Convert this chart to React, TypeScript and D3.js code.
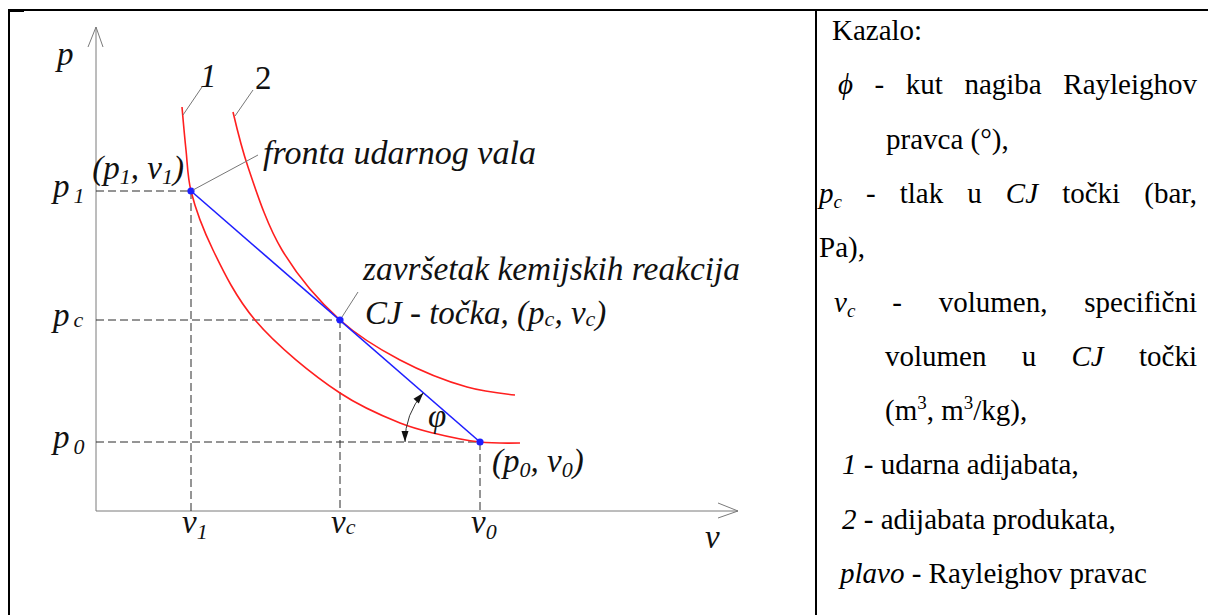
import React, { useEffect, useRef } from "react";
import * as d3 from "d3";

// shock adiabat (curve 1), v / p in diagram units
const shockV = [0.86, 0.9, 0.95, 1.17, 1.59, 2.44, 3.04, 3.37, 3.84, 4.24];
const shockP = [4.04, 3.61, 3.2, 2.61, 1.91, 1.18, 0.88, 0.78, 0.69, 0.68];

// product adiabat (curve 2)
const productV = [1.37, 1.52, 1.86, 2.44, 3.04, 3.71, 4.19];
const productP = [3.99, 3.44, 2.61, 1.91, 1.51, 1.24, 1.16];

// states: shock front (1), CJ point (c), initial (0)
const stateSub = ["1", "c", "0"];
const stateV = [0.95, 2.44, 3.84];
const stateP = [3.2, 1.91, 0.69];

const vMax = 6.42;
const pMax = 4.84;

type Run = [string, string];
// legend rows: words made of runs (n = normal, i = italic, sub, sup)
const legendRows: Run[][][] = [
  [[["Kazalo:", "n"]]],
  [[["ϕ", "i"]], [["-", "n"]], [["kut", "n"]], [["nagiba", "n"]], [["Rayleighov", "n"]]],
  [[["pravca", "n"]], [["(°),", "n"]]],
  [[["p", "i"], ["c", "sub"]], [["-", "n"]], [["tlak", "n"]], [["u", "n"]], [["CJ", "i"]], [["točki", "n"]], [["(bar,", "n"]]],
  [[["Pa),", "n"]]],
  [[["v", "i"], ["c", "sub"]], [["-", "n"]], [["volumen,", "n"]], [["specifični", "n"]]],
  [[["volumen", "n"]], [["u", "n"]], [["CJ", "i"]], [["točki", "n"]]],
  [[["(m", "n"], ["3", "sup"], [",", "n"]], [["m", "n"], ["3", "sup"], ["/kg),", "n"]]],
  [[["1", "i"]], [["-", "n"]], [["udarna", "n"]], [["adijabata,", "n"]]],
  [[["2", "i"]], [["-", "n"]], [["adijabata", "n"]], [["produkata,", "n"]]],
  [[["plavo", "i"]], [["-", "n"]], [["Rayleighov", "n"]], [["pravac", "n"]]],
];
const legendJustified = [false, true, false, true, false, true, true, false, false, false, false];

const FONT = "Liberation Serif, Tinos, Times New Roman, Times, DejaVu Serif, serif";

const App = () => {
  const legendRef = useRef<SVGGElement | null>(null);

  const x = d3.scaleLinear().domain([0, vMax]).range([96, 738]);
  const y = d3.scaleLinear().domain([0, pMax]).range([511, 27]);

  const line = d3
    .line<[number, number]>()
    .x((d) => x(d[0]))
    .y((d) => y(d[1]))
    .curve(d3.curveCatmullRom.alpha(0.5));

  const shock = shockV.map((v, i) => [v, shockP[i]] as [number, number]);
  const product = productV.map((v, i) => [v, productP[i]] as [number, number]);

  const pts = stateV.map((v, i) => [x(v), y(stateP[i])]);
  const [P1, Pc, P0] = pts;

  // angle arc at the initial state
  const r = 75;
  const a0 = Math.PI;
  const a1 = Math.atan2(P1[1] - P0[1], P1[0] - P0[0]) + 2 * Math.PI;
  const arc = d3.path();
  arc.arc(P0[0], P0[1], r, a0, a1, false);
  const head = (a: number, dir: number) => {
    const tx = P0[0] + r * Math.cos(a);
    const ty = P0[1] + r * Math.sin(a);
    const ux = -Math.sin(a) * dir;
    const uy = Math.cos(a) * dir;
    const L = 11;
    const w = 3.5;
    const bx = tx - ux * L;
    const by = ty - uy * L;
    return `M${tx},${ty}L${bx - uy * w},${by + ux * w}L${bx + uy * w},${by - ux * w}Z`;
  };

  useEffect(() => {
    if (!legendRef.current) return;
    const g = d3.select(legendRef.current);
    g.selectAll("*").remove();
    const indent = [832, 838, 886, 819, 819, 834, 885, 885, 842, 842, 840];
    const right = 1197;
    const fs = 29;
    legendRows.forEach((row, ri) => {
      const base = 40 + ri * 54.3;
      const texts = row.map((word) => {
        const t = g
          .append("text")
          .attr("y", base)
          .style("font-family", FONT)
          .attr("font-size", fs)
          .attr("fill", "#000");
        let shift = 0;
        word.forEach(([s, k]) => {
          const ts = t.append("tspan").text(s);
          const target = k === "sub" ? 5 : k === "sup" ? -11 : 0;
          if (target !== shift) {
            ts.attr("dy", target - shift);
            shift = target;
          }
          if (k === "i" || k === "sub") ts.attr("font-style", "italic");
          if (k === "sub" || k === "sup") ts.attr("font-size", 19);
        });
        return t;
      });
      const widths = texts.map((t) => (t.node() as SVGTextElement).getComputedTextLength());
      const total = d3.sum(widths);
      const gap =
        legendJustified[ri] && texts.length > 1
          ? (right - indent[ri] - total) / (texts.length - 1)
          : fs * 0.25;
      let cx = indent[ri];
      texts.forEach((t, i) => {
        t.attr("x", cx);
        cx += widths[i] + gap;
      });
    });
  }, []);

  const txt = { fontFamily: FONT, fontStyle: "italic" as const, fill: "#111" };
  const dash = { stroke: "#2a2a2a", strokeWidth: 1, strokeDasharray: "8,4" };

  return (
    <svg
      width={1208}
      height={615}
      style={{ position: "absolute", left: 0, top: 0, background: "#fff" }}
    >
      {/* frame */}
      <line x1={8} x2={1208} y1={10} y2={10} stroke="#000" strokeWidth={2} />
      <rect x={8} y={9} width={16} height={3} fill="#000" />
      <line x1={9} x2={9} y1={9} y2={615} stroke="#000" strokeWidth={2} />
      <line x1={816} x2={816} y1={9} y2={615} stroke="#000" strokeWidth={2} />

      {/* axes */}
      <g stroke="#7a7a7a" strokeWidth={1} fill="none">
        <path d={`M${x(0)},${y(0)}V${y(pMax)}`} />
        <path d={`M${x(0) - 8},${y(pMax) + 20}L${x(0)},${y(pMax)}L${x(0) + 7},${y(pMax) + 20}`} />
        <path d={`M${x(0)},${y(0)}H${x(vMax)}`} />
        <path d={`M${x(vMax) - 20},${y(0) - 8}L${x(vMax)},${y(0)}L${x(vMax) - 20},${y(0) + 7}`} />
      </g>

      {/* dashed guides */}
      {pts.map((p, i) => (
        <g key={i}>
          <line x1={x(0)} x2={p[0]} y1={p[1]} y2={p[1]} style={dash} />
          <line x1={p[0]} x2={p[0]} y1={p[1]} y2={y(0)} style={dash} />
        </g>
      ))}

      {/* adiabats */}
      <path d={line(shock) || ""} fill="none" stroke="#ff1f1f" strokeWidth={1.6} />
      <path d={line(product) || ""} fill="none" stroke="#ff1f1f" strokeWidth={1.6} />

      {/* Rayleigh line */}
      <line x1={P1[0]} y1={P1[1]} x2={P0[0]} y2={P0[1]} stroke="#1f1fff" strokeWidth={1.6} />

      {/* angle */}
      <path d={arc.toString()} fill="none" stroke="#333" strokeWidth={1} />
      <path d={head(a0, -1)} fill="#111" />
      <path d={head(a1, 1)} fill="#111" />

      {pts.map((p, i) => (
        <circle key={i} cx={p[0]} cy={p[1]} r={3.6} fill="#1f1fff" />
      ))}

      {/* leaders */}
      <g stroke="#777" strokeWidth={1}>
        <line x1={x(shockV[0]) + 1} y1={y(shockP[0]) + 8} x2={x(shockV[0]) + 20} y2={y(shockP[0]) - 20} />
        <line x1={x(productV[0]) + 2} y1={y(productP[0]) + 4} x2={x(productV[0]) + 20} y2={y(productP[0]) - 22} />
        <line x1={P1[0] + 2} y1={P1[1] - 1} x2={P1[0] + 67} y2={P1[1] - 36} />
        <line x1={Pc[0] + 2} y1={Pc[1] - 3} x2={Pc[0] + 18} y2={Pc[1] - 28} />
      </g>

      {/* labels */}
      <g style={txt} fontSize={33}>
        <text x={57} y={65}>p</text>
        <text x={705} y={548}>v</text>
        <text x={x(shockV[0]) + 18} y={87}>1</text>
        <text x={x(productV[0]) + 22} y={89} style={{ fontStyle: "normal" }}>2</text>

        {stateP.map((p, i) => (
          <text key={`p${i}`} x={53} y={y(p) + 6}>
            p
            <tspan dx={4} dy={stateSub[i] === "c" ? 1 : 6} fontSize={22}>
              {stateSub[i]}
            </tspan>
          </text>
        ))}
        {stateV.map((v, i) => (
          <text key={`v${i}`} x={x(v) - 9} y={533}>
            v
            <tspan dy={stateSub[i] === "c" ? 1 : 6} fontSize={22}>
              {stateSub[i]}
            </tspan>
          </text>
        ))}

        <text x={P1[0] - 7} y={P1[1] - 12} textAnchor="end">
          (p<tspan dy={5} fontSize={22}>1</tspan>
          <tspan dy={-5}>, v</tspan>
          <tspan dy={5} fontSize={22}>1</tspan>
          <tspan dy={-5}>)</tspan>
        </text>
        <text x={P1[0] + 72} y={P1[1] - 27} textLength={273} lengthAdjust="spacingAndGlyphs">
          fronta udarnog vala
        </text>
        <text x={Pc[0] + 23} y={Pc[1] - 40} textLength={377} lengthAdjust="spacingAndGlyphs">
          završetak kemijskih reakcija
        </text>
        <text x={Pc[0] + 25} y={Pc[1] + 4}>
          CJ - točka, (p<tspan dy={2} fontSize={22}>c</tspan>
          <tspan dy={-2}>, v</tspan>
          <tspan dy={2} fontSize={22}>c</tspan>
          <tspan dy={-2}>)</tspan>
        </text>
        <text x={P0[0] + 12} y={P0[1] + 30}>
          (p<tspan dy={5} fontSize={22}>0</tspan>
          <tspan dy={-5}>, v</tspan>
          <tspan dy={5} fontSize={22}>0</tspan>
          <tspan dy={-5}>)</tspan>
        </text>
        <text x={P0[0] - 52} y={P0[1] - 15}>φ</text>
      </g>

      <g ref={legendRef} />
    </svg>
  );
};

export default App;
